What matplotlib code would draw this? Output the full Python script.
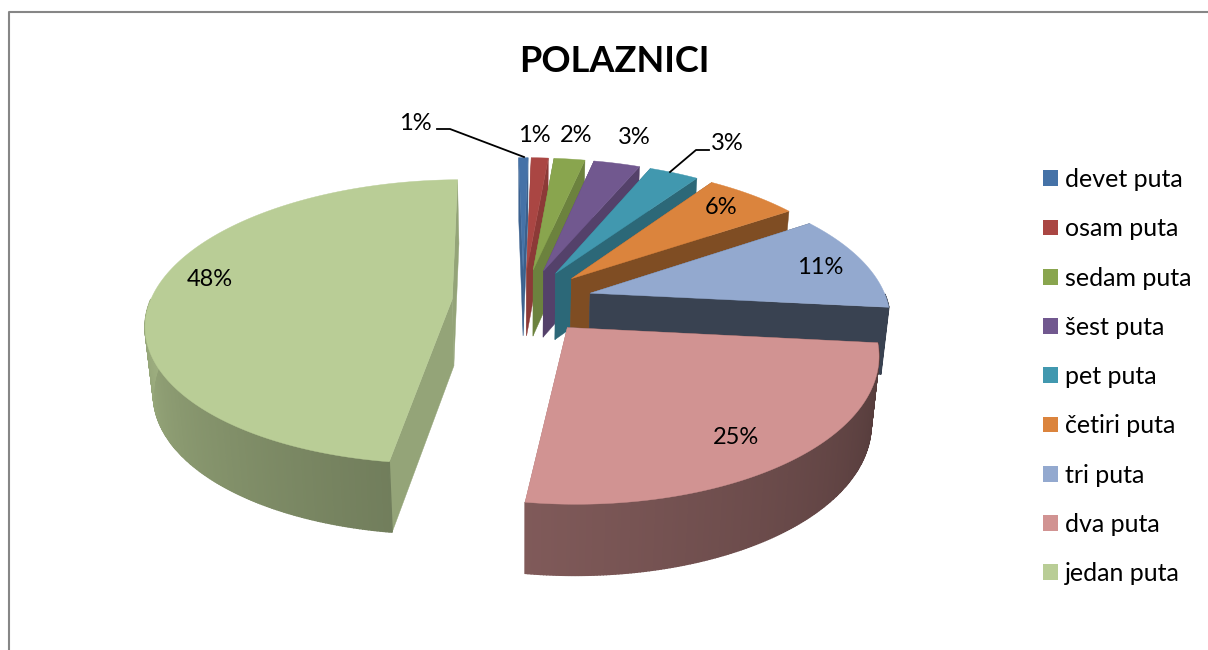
import numpy as np
import matplotlib
matplotlib.use("Agg")
import matplotlib.pyplot as plt
from matplotlib.patches import Patch

plt.rcParams["font.family"] = ["Lato", "DejaVu Sans"]

# ============================================================
# Data
# ============================================================
categories = ["devet puta", "osam puta", "sedam puta", "šest puta", "pet puta",
              "četiri puta", "tri puta", "dva puta", "jedan puta"]
# shares, the labels show them rounded
shares = [0.6, 1.1, 2.0, 3.0, 3.2, 6.0, 11.0, 25.6, 47.5]
labels = ["1%", "1%", "2%", "3%", "3%", "6%", "11%", "25%", "48%"]
colors = ["#4572a7", "#aa4643", "#89a54e", "#71588f", "#4198af",
          "#db843d", "#93a9cf", "#d19392", "#b9cd96"]

# label centres in pixels
label_pos = [(415, 123), (534, 136), (576, 136), (634, 138), (727, 143),
             (721, 207), (820, 268), (736, 437), (210, 279)]

# ============================================================
# Fake 3D projection of an exploded pie
# ============================================================
CX, CY = 523, 301
SX_LEFT, SX_RIGHT = 302, 297
SY = 139
PERSP = 0.16
EXPLODE = 0.235
DEPTH = 67
START = -1.0


def project(x, y, lower=False):
    s = 1 + PERSP * y
    px = CX + np.where(np.asarray(x) > 0, SX_RIGHT, SX_LEFT) * x / s
    py = CY - SY * y / s
    if lower:
        px = CX + (px - CX) * 0.978
        py = py + DEPTH / (1 + 0.05 * y)
    return px, py


def shade(color, f):
    return np.array(matplotlib.colors.to_rgb(color)) * f


def flat_shade(a):
    return 0.85 - 0.0048 * a if a < 180 else 0.8


def arc_shade(a):
    return np.interp(a, [97, 187, 270, 360], [0.39, 0.61, 0.85, 0.85])


fig = plt.figure(figsize=(12.08, 6.5), dpi=100)
ax = fig.add_axes([0, 0, 1, 1])
ax.set_xlim(0, 1208)
ax.set_ylim(650, 0)
ax.axis("off")

# chart frame, only top and left are inside the picture
ax.plot([8.5, 8.5, 1208], [650, 12, 12], color="#868686", lw=1.5)

edges = START + np.cumsum([0] + shares) * 3.6

for i in range(len(shares)):
    a0, a1 = edges[i], edges[i + 1]
    mid = np.radians((a0 + a1) / 2)
    ox, oy = EXPLODE * np.sin(mid), EXPLODE * np.cos(mid)
    ang = np.linspace(a0, a1, max(int((a1 - a0) / 0.5), 2) + 1)
    xs = ox + np.sin(np.radians(ang))
    ys = oy + np.cos(np.radians(ang))
    c = colors[i]

    # side walls along the two cut edges
    for a, x, y in [(a0, xs[0], ys[0]), (a1, xs[-1], ys[-1])]:
        p = [project(ox, oy), project(x, y), project(x, y, True), project(ox, oy, True)]
        ax.fill(*zip(*p), color=shade(c, flat_shade(a)), lw=0.3)

    # outer wall, small strips for the gradient, back side is hidden
    for j in range(len(ang) - 1):
        if not 90 < ang[j] < 270:
            continue
        p = [project(xs[j], ys[j]), project(xs[j + 1], ys[j + 1]),
             project(xs[j + 1], ys[j + 1], True), project(xs[j], ys[j], True)]
        ax.fill(*zip(*p), color=shade(c, arc_shade(ang[j])), lw=1.0)

    # top face
    tx, ty = project(np.r_[ox, xs], np.r_[oy, ys])
    ax.fill(tx, ty, color=c, lw=0.3)

for text, (lx, ly) in zip(labels, label_pos):
    ax.text(lx, ly, text, fontsize=17, ha="center", va="center", color="black")

# leader lines
ax.plot([437, 450, 524], [129, 129, 157], color="black", lw=1.3)
ax.plot([709, 696, 670], [150, 150, 172], color="black", lw=1.3)

ax.text(614, 61, "POLAZNICI", fontsize=26, fontweight="bold", ha="center", va="center")

handles = [Patch(facecolor=c, edgecolor="none") for c in colors]
ax.legend(handles, categories, loc="upper left", bbox_to_anchor=(1043 / 1208, 1 - 168 / 650),
          frameon=False, fontsize=18, handlelength=0.6, handleheight=0.6,
          handletextpad=0.28, labelspacing=1.05, borderpad=0, borderaxespad=0)

fig.savefig("out.png", dpi=100)
